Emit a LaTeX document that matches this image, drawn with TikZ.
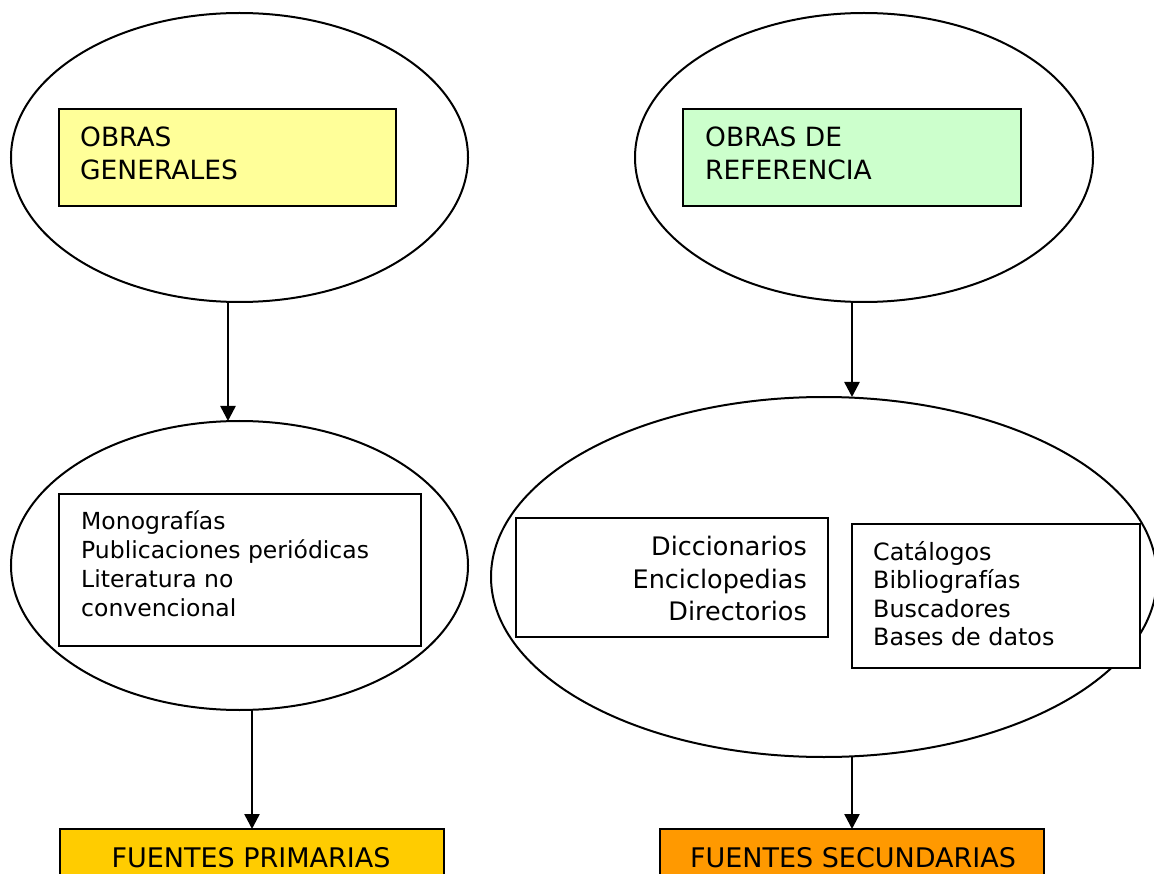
\documentclass[tikz,border=0pt]{standalone}
\usepackage{fontspec}
\setmainfont{DejaVu Sans}
\usetikzlibrary{shapes.geometric,arrows.meta}
\definecolor{cyellow}{HTML}{FFFF99}
\definecolor{cgreen}{HTML}{CCFFCC}
\definecolor{cgold}{HTML}{FFCC00}
\definecolor{corange}{HTML}{FF9900}
\tikzset{
  oval/.style={draw, ellipse, line width=2pt, inner sep=0pt, outer sep=0pt},
  box/.style={draw, rectangle, line width=2pt, inner sep=0pt, outer sep=0pt, fill=white},
  arr/.style={line width=2.5pt, -{Triangle[length=15pt,width=15pt]}},
  lt/.style={anchor=base west, inner sep=0pt},
  rt/.style={anchor=base east, inner sep=0pt},
  ct/.style={anchor=base, inner sep=0pt},
}
\begin{document}
\begin{tikzpicture}[x=1pt,y=-1pt]
\useasboundingbox (0,0) rectangle (1154,874);
% ellipses
\node[oval, minimum width=457pt, minimum height=289pt] (e1) at (239.5,157.5) {};
\node[oval, minimum width=458pt, minimum height=289pt] (e2) at (864,157.5) {};
\node[oval, minimum width=457pt, minimum height=289pt] (e3) at (239.5,565.5) {};
\node[oval, minimum width=666pt, minimum height=360pt] (e4) at (824,577) {};
% boxes
\node[box, fill=cyellow, minimum width=337pt, minimum height=97pt] (b1) at (227.5,157.5) {};
\node[box, fill=cgreen, minimum width=338pt, minimum height=97pt] (b2) at (852,157.5) {};
\node[box, minimum width=362pt, minimum height=152pt] (b3) at (240,570) {};
\node[box, minimum width=312pt, minimum height=119pt] (b4) at (672,577.5) {};
\node[box, minimum width=288pt, minimum height=144pt] (b5) at (996,596) {};
\node[box, fill=cgold, minimum width=384pt, minimum height=60pt] (b6) at (252,859) {};
\node[box, fill=corange, minimum width=384pt, minimum height=60pt] (b7) at (852,859) {};
% texts
\begin{scope}[every node/.append style={font=\fontsize{26.5}{33}\selectfont}]
\node[lt] (t1a) at (80,147) {OBRAS};
\node[lt] (t1b) at (80,180) {GENERALES};
\node[lt] (t2a) at (705,147) {OBRAS DE};
\node[lt] (t2b) at (705,180) {REFERENCIA};
\end{scope}
\begin{scope}[every node/.append style={font=\fontsize{23.5}{29}\selectfont}]
\node[lt] (t3a) at (81,529) {Monografías};
\node[lt] (t3b) at (81,558) {Publicaciones periódicas};
\node[lt] (t3c) at (81,587) {Literatura no};
\node[lt] (t3d) at (81,616) {convencional};
\end{scope}
\begin{scope}[every node/.append style={font=\fontsize{25.5}{32}\selectfont}]
\node[rt] (t4a) at (807,555) {Diccionarios};
\node[rt] (t4b) at (807,588) {Enciclopedias};
\node[rt] (t4c) at (807,620) {Directorios};
\end{scope}
\begin{scope}[every node/.append style={font=\fontsize{23.8}{29}\selectfont}]
\node[lt] (t5a) at (873,560) {Catálogos};
\node[lt] (t5b) at (873,588.5) {Bibliografías};
\node[lt] (t5c) at (873,617) {Buscadores};
\node[lt] (t5d) at (873,645.5) {Bases de datos};
\end{scope}
\begin{scope}[every node/.append style={font=\fontsize{27}{33}\selectfont}]
\node[ct] (t6) at (251,867) {FUENTES PRIMARIAS};
\node[ct] (t7) at (853,867) {FUENTES SECUNDARIAS};
\end{scope}
% connectors
\coordinate (xa) at (228,0);
\coordinate (xb) at (252,0);
\coordinate (xc) at (852,0);
\draw[arr] (e1.south -| xa) -- (e3.north -| xa);
\draw[arr] (e3.south -| xb) -- (b6.north -| xb);
\draw[arr] (e2.south -| xc) -- (e4.north -| xc);
\draw[arr] (e4.south -| xc) -- (b7.north -| xc);
\end{tikzpicture}
\end{document}
